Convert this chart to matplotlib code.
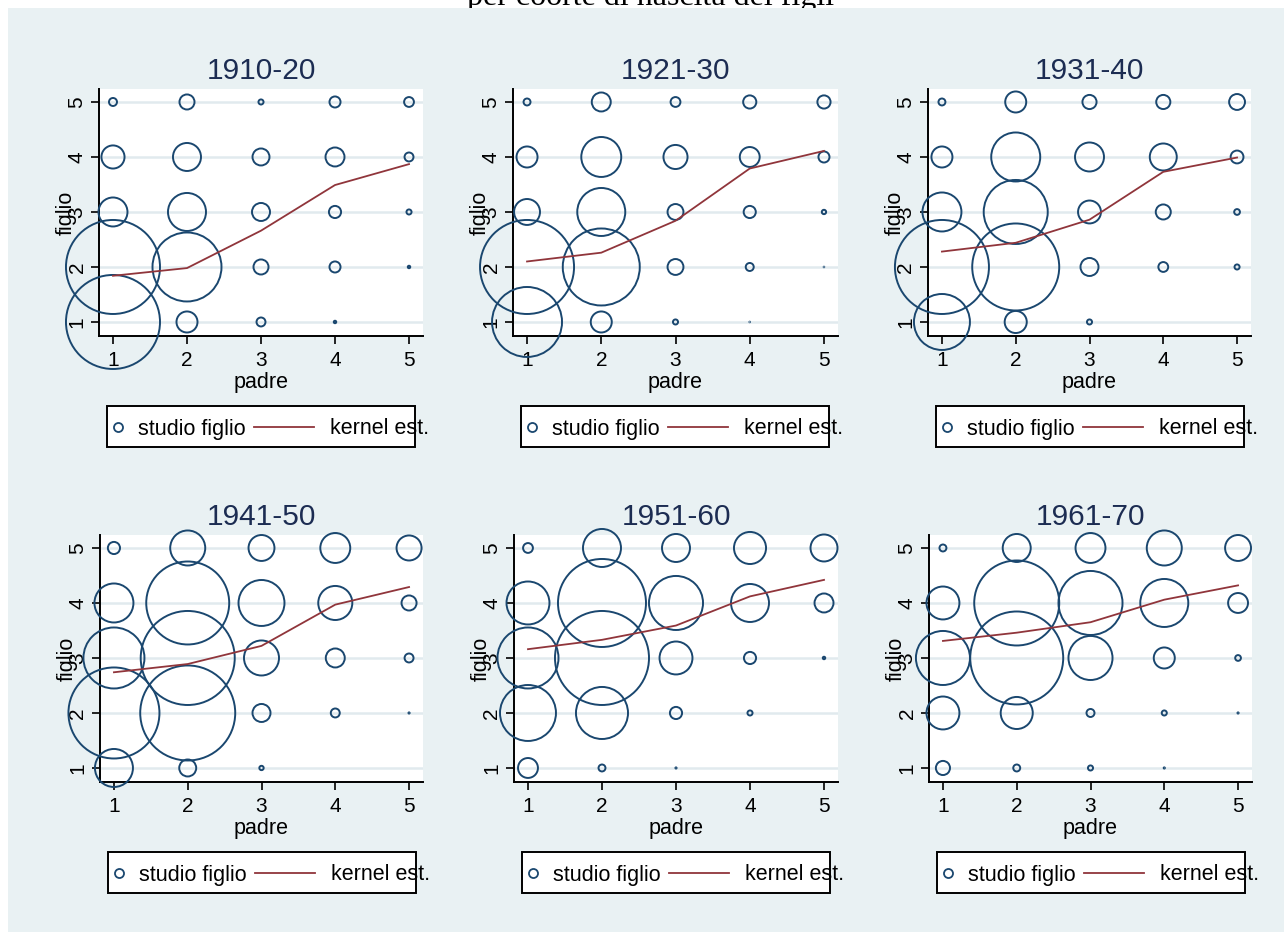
import numpy as np
import matplotlib.pyplot as plt
from matplotlib.patches import Rectangle
from matplotlib.lines import Line2D

plt.rcParams['font.family'] = ['Liberation Sans', 'DejaVu Sans']

coorti = ['1910-20', '1921-30', '1931-40', '1941-50', '1951-60', '1961-70']
livelli = [1, 2, 3, 4, 5]

# frequenze: righe = studio figlio 1..5, colonne = studio padre 1..5
freq_1910 = [[922, 53, 12, 2, 0],
             [922, 504, 29, 17, 2],
             [96, 160, 40, 20, 5],
             [63, 90, 36, 44, 12],
             [10, 29, 5, 17, 14]]
freq_1921 = [[518, 53, 5, 0.5, 0],
             [922, 624, 32, 10, 0.5],
             [78, 250, 32, 20, 4],
             [53, 176, 68, 48, 17],
             [8, 44, 14, 23, 23]]
freq_1931 = [[336, 58, 5, 0, 0],
             [922, 792, 40, 14, 5],
             [168, 436, 62, 29, 6],
             [53, 260, 96, 84, 22],
             [8, 53, 26, 26, 32]]
freq_1941 = [[160, 36, 4, 0, 0],
             [865, 941, 40, 12, 1],
             [397, 922, 137, 44, 12],
             [168, 722, 230, 130, 29],
             [20, 137, 78, 102, 73]]
freq_1951 = [[48, 8, 1, 0, 0],
             [336, 292, 20, 5, 0],
             [397, 922, 122, 20, 2],
             [202, 810, 314, 160, 44],
             [14, 160, 90, 116, 84]]
freq_1961 = [[26, 8, 5, 1, 0],
             [122, 116, 10, 5, 1],
             [314, 902, 212, 53, 6],
             [122, 757, 436, 250, 48],
             [8, 90, 102, 137, 78]]

# stima kernel dello studio del figlio dato lo studio del padre
kernel_1910 = [1.84, 1.98, 2.66, 3.49, 3.87]
kernel_1921 = [2.10, 2.26, 2.84, 3.79, 4.11]
kernel_1931 = [2.28, 2.44, 2.86, 3.73, 3.99]
kernel_1941 = [2.74, 2.89, 3.22, 3.97, 4.29]
kernel_1951 = [3.16, 3.33, 3.59, 4.12, 4.42]
kernel_1961 = [3.31, 3.46, 3.65, 4.06, 4.32]

freqs = [freq_1910, freq_1921, freq_1931, freq_1941, freq_1951, freq_1961]
kernels = [kernel_1910, kernel_1921, kernel_1931, kernel_1941, kernel_1951, kernel_1961]

W, H = 1284, 935
navy = '#1A476F'
maroon = '#90353B'
bg = '#E9F1F3'

fig = plt.figure(figsize=(W / 100, H / 100), dpi=100)
fig.patch.set_facecolor('white')
fig.text(651 / W, 1 - 4.5 / H, 'per coorte di nascita dei figli', family='Liberation Serif',
         fontsize=23, ha='center', va='baseline', zorder=-2)
fig.patches.append(Rectangle((8 / W, 3 / H), 1 - 8 / W, 1 - 11 / H, transform=fig.transFigure,
                             facecolor=bg, edgecolor='none', zorder=-1))

# pixel boxes of the plot regions (left, top, right, bottom)
boxes = [(99, 89, 423, 336), (513, 89, 838, 336), (928, 89, 1251, 336),
         (100, 535, 423, 782), (514, 535, 838, 782), (929, 535, 1252, 782)]

X, Y = np.meshgrid(livelli, livelli)

for coorte, fr, ker, (l, t, r, b) in zip(coorti, freqs, kernels, boxes):
    ax = fig.add_axes([l / W, 1 - b / H, (r - l) / W, (b - t) / H])
    ax.set_facecolor('white')
    for s in ['top', 'right']:
        ax.spines[s].set_visible(False)
    for s in ['left', 'bottom']:
        ax.spines[s].set_linewidth(1.4)
    ax.yaxis.grid(True, color='#E1EAEE', lw=1.8)
    ax.set_axisbelow(True)

    f = np.array(fr, dtype=float)
    m = f > 0
    d = np.sqrt(10 * f[m])  # outer diameter in px, area proportional to frequency
    sizes = (0.72 * np.maximum(d - 2.0, 0.6)) ** 2
    ax.scatter(X[m], Y[m], s=sizes, facecolors='none', edgecolors=navy,
               linewidths=1.4, clip_on=False, zorder=3)
    ax.plot(livelli, ker, color=maroon, lw=1.3, zorder=4, clip_on=False)

    ax.set_xlim(0.811, 5.189)
    ax.set_ylim(0.745, 5.236)
    ax.set_xticks(livelli)
    ax.set_yticks(livelli)
    ax.tick_params(length=5.5, width=1.2, labelsize=15, pad=3.5, color='black')
    ax.tick_params(axis='x', pad=5.5)
    plt.setp(ax.get_yticklabels(), rotation=90, va='center')

    ax.set_title(coorte, fontsize=21.5, color='#1c2c52', pad=7)
    ax.set_xlabel('padre', fontsize=15.5)
    ax.set_ylabel('figlio', fontsize=15.5)
    ax.xaxis.set_label_coords(0.5, -0.145)
    ax.yaxis.set_label_coords(-0.068, 0.5)

    # legenda
    pw, ph = r - l, b - t
    tr = ax.transAxes
    ax.add_patch(Rectangle((8 / pw, -111 / ph), 308 / pw, 41 / ph, transform=tr,
                           facecolor='white', edgecolor='black', lw=1.4, clip_on=False))
    ly = -91 / ph
    ax.add_line(Line2D([19 / pw], [ly], transform=tr, marker='o', ms=6.5, mfc='none',
                       mec=navy, mew=1.3, clip_on=False))
    ax.text(39 / pw, ly - 2 / ph, 'studio figlio', transform=tr, fontsize=15.5,
            ha='left', va='center')
    ax.add_line(Line2D([155 / pw, 215 / pw], [ly, ly], transform=tr, color=maroon,
                       lw=1.3, clip_on=False))
    ax.text(231 / pw, ly - 2 / ph, 'kernel est.', transform=tr, fontsize=15.5,
            ha='left', va='center')

fig.savefig('out.png', dpi=100)
